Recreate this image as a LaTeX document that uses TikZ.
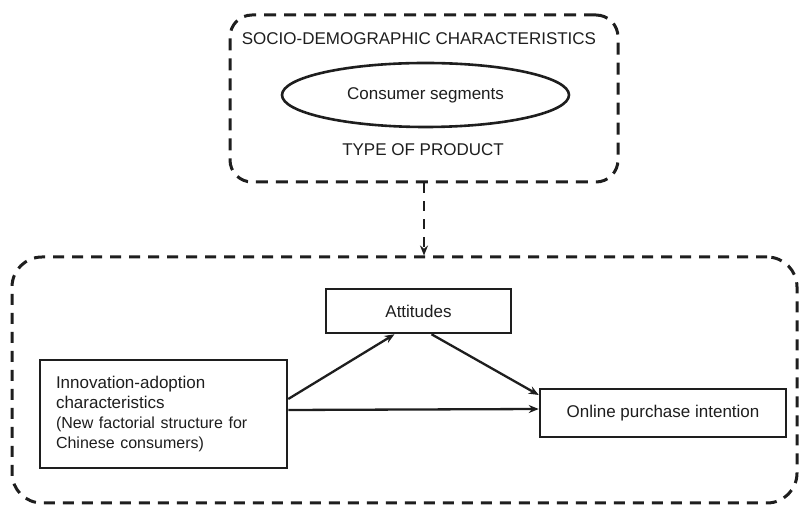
\documentclass[tikz,border=0pt]{standalone}
\usepackage{fontspec}
\setmainfont{Liberation Sans}
\usetikzlibrary{positioning,shapes.geometric,arrows.meta,calc}
\definecolor{ink}{HTML}{1E1E1E}
\tikzset{
  >={Stealth[length=10pt,width=8pt]},
  every node/.style={font=\fontsize{17}{20}\selectfont, text=ink},
  % --- frames and boxes
  frame/.style = {draw=ink, line width=3pt, dash pattern=on 12pt off 8pt,
                  rounded corners=22pt, inner sep=0pt},
  blk/.style   = {draw=ink, line width=2.5pt, fill=white, inner sep=0pt},
  seg/.style   = {ellipse, draw=ink, line width=2.6pt, inner sep=0pt,
                  minimum width=287pt, minimum height=64pt},
  % --- edges
  e/.style     = {->, line width=2.3pt, draw=ink},
  ed/.style    = {e, dash pattern=on 10pt off 8pt},
}
\newcommand{\subtxt}{\fontsize{16}{20}\selectfont}
\begin{document}
\begin{tikzpicture}[x=1pt,y=1pt]
  \useasboundingbox (0,0) rectangle (800,508);
  % upper frame
  \node[frame, minimum width=388pt, minimum height=167pt] (ctx) at (424,409.5) {};
  \node (socio) at (419,469) {SOCIO-DEMOGRAPHIC CHARACTERISTICS};
  \node[seg] (segm) at (425.5,413) {Consumer segments};
  \node (prod) at (423,358) {TYPE OF PRODUCT};
  % lower frame
  \node[frame, rounded corners=30pt, dash pattern=on 11pt off 8pt,
        minimum width=785pt, minimum height=246pt] (model) at (404.5,128) {};
  \node[blk, minimum width=247pt, minimum height=108pt, text width=215pt,
        align=left] (inno) at (163.5,94)
    {Innovation-adoption\\characteristics\\
     \subtxt (New factorial structure for\\Chinese consumers)};
  \node[blk, minimum width=185pt, minimum height=44pt] (att) at (418.5,197) {Attitudes};
  \node[blk, minimum width=246pt, minimum height=48pt] (online) at (663,95)
    {Online purchase intention};
  % connectors
  \draw[ed] (ctx.south) -- (ctx.south |- model.north);
  \draw[e] ([yshift=15pt]inno.east) -- ([xshift=-24pt]att.south);
  \draw[e] ([xshift=13pt]att.south) -- ([yshift=18pt]online.west);
  \draw[e] ([yshift=4pt]inno.east) -- ([yshift=4pt]online.west);
\end{tikzpicture}
\end{document}
